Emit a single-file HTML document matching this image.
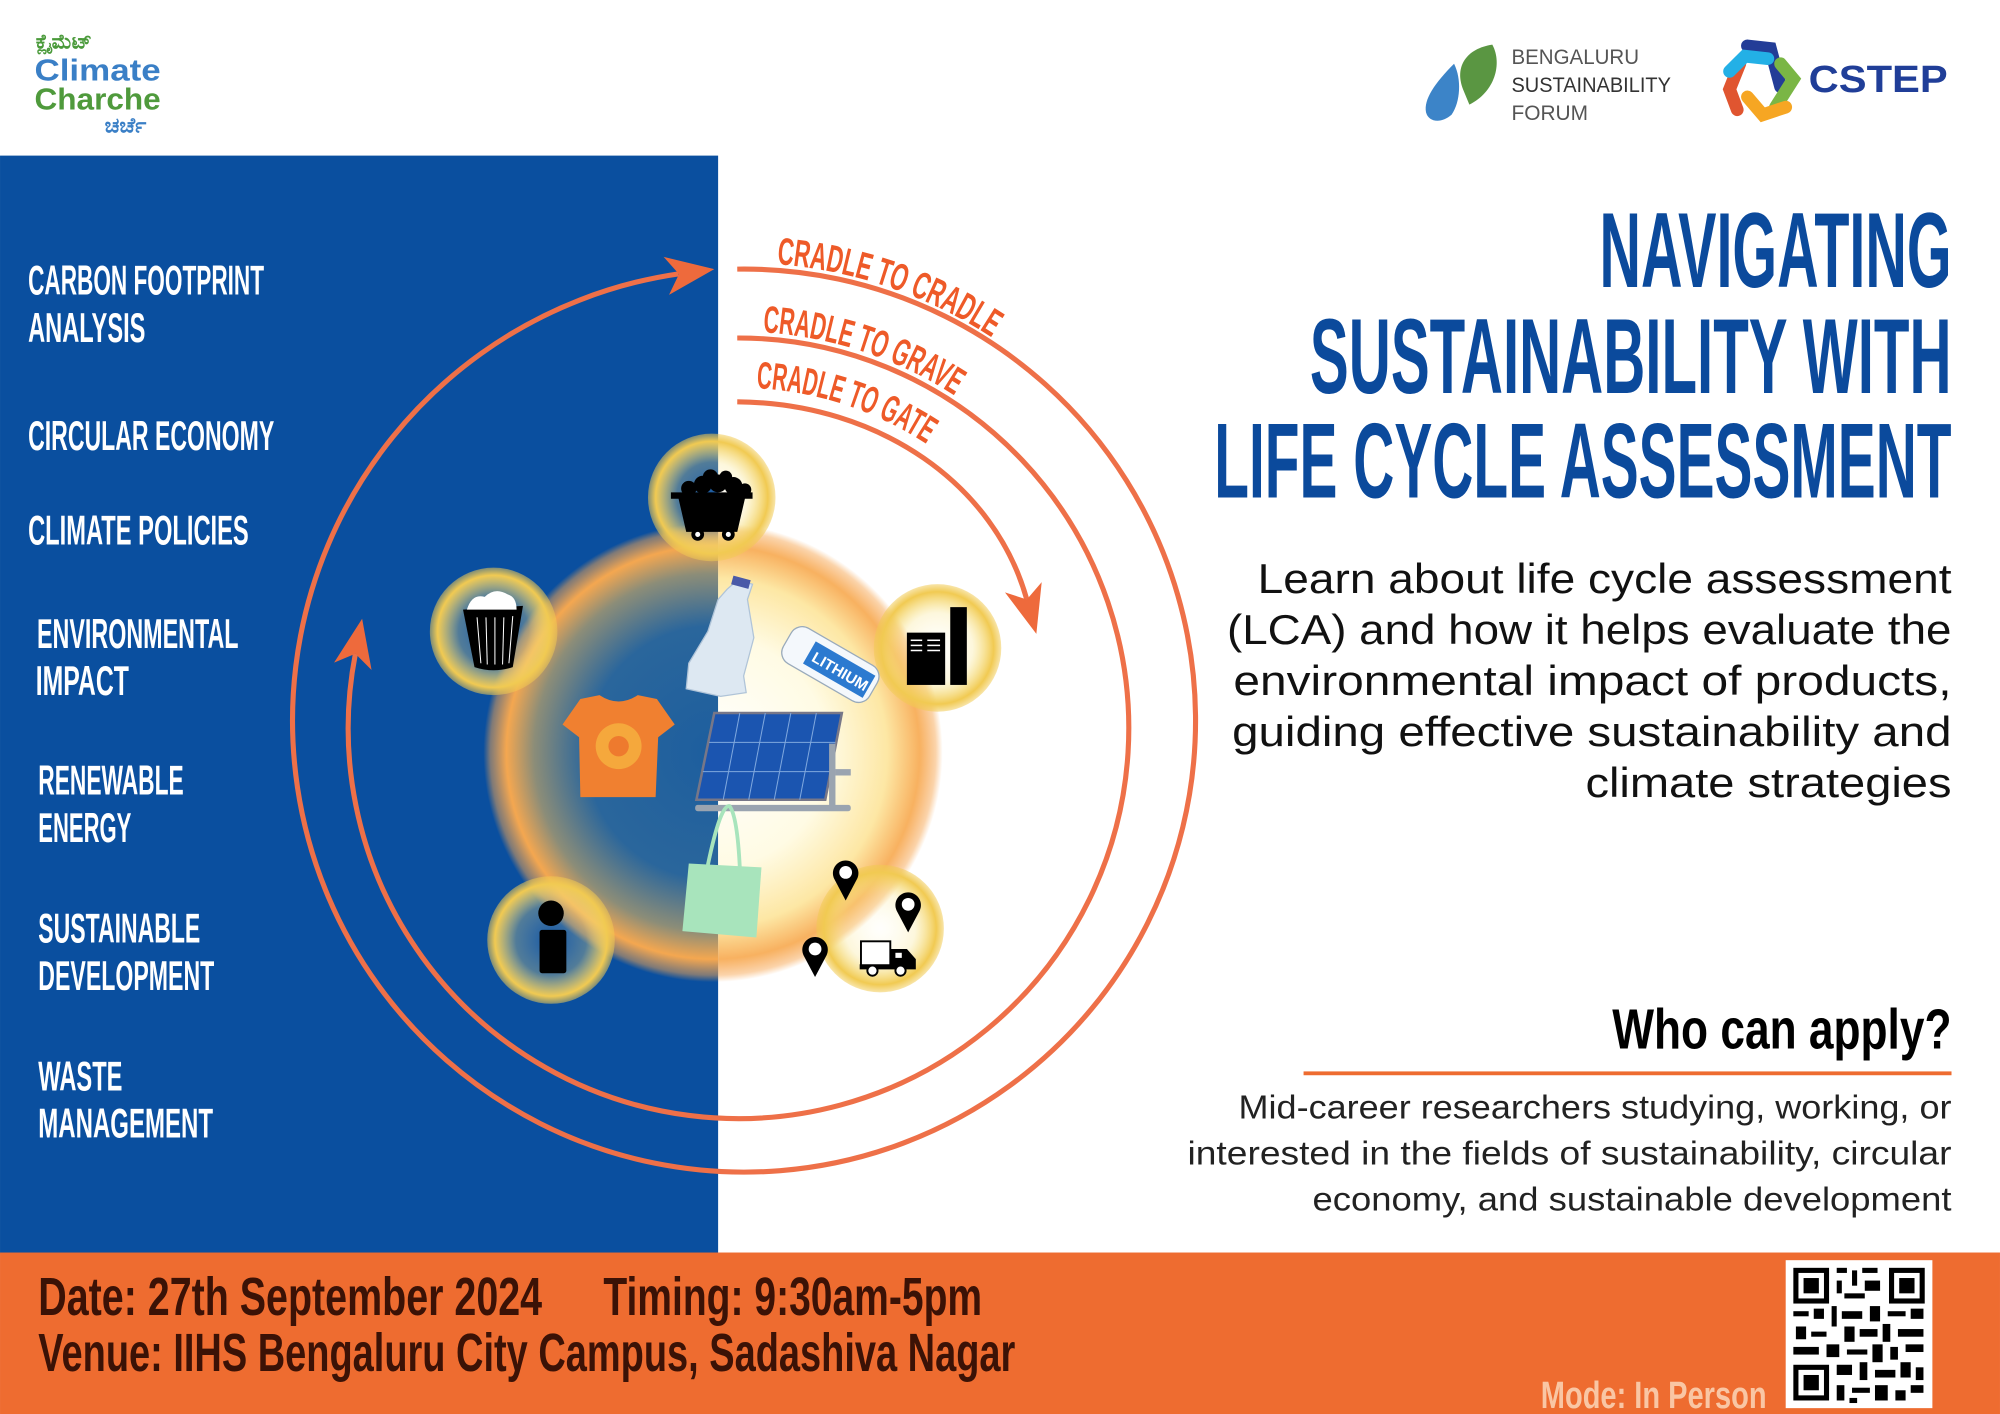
<!DOCTYPE html>
<html><head><meta charset="utf-8"><style>
html,body{margin:0;padding:0;background:#fff;}
svg{display:block;}
.c{font-family:"Liberation Sans",sans-serif;font-weight:bold;}
.b{font-family:"Liberation Sans","DejaVu Sans",sans-serif;}
</style></head><body>
<svg width="2000" height="1414" viewBox="0 0 1568 1108.6" xmlns="http://www.w3.org/2000/svg">
<defs>
<radialGradient id="gl" cx="559" cy="590" r="180" gradientUnits="userSpaceOnUse">
<stop offset="0" stop-color="#1d5e9e"/><stop offset="0.55" stop-color="#2a669c"/>
<stop offset="0.78" stop-color="#8c8d78"/><stop offset="0.9" stop-color="#f4a750"/>
<stop offset="0.97" stop-color="#f5a550" stop-opacity="0.5"/><stop offset="1" stop-color="#f5a550" stop-opacity="0"/>
</radialGradient>
<radialGradient id="gr" cx="559" cy="590" r="180" gradientUnits="userSpaceOnUse">
<stop offset="0" stop-color="#ffffff"/><stop offset="0.5" stop-color="#fffbe4"/>
<stop offset="0.76" stop-color="#fde7a4"/><stop offset="0.9" stop-color="#f8b160"/>
<stop offset="0.97" stop-color="#f7a855" stop-opacity="0.5"/><stop offset="1" stop-color="#f7a855" stop-opacity="0"/>
</radialGradient>
<radialGradient id="sg">
<stop offset="0" stop-color="#fff6c8" stop-opacity="0.05"/><stop offset="0.55" stop-color="#f8e48a" stop-opacity="0.3"/>
<stop offset="0.88" stop-color="#f1ca52" stop-opacity="1"/><stop offset="1" stop-color="#f1ca52" stop-opacity="0.5"/>
</radialGradient>
<clipPath id="cl"><rect x="0" y="0" width="563" height="1109"/></clipPath>
<clipPath id="cr"><rect x="563" y="0" width="1005" height="1109"/></clipPath>
<path id="p1" d="M 581 206 A 359 359 0 0 1 940 565"/>
<path id="p2" d="M 579 260 A 311 311 0 0 1 890 571"/>
<path id="p3" d="M 579 304 A 268 268 0 0 1 847 572"/>
</defs>

<rect width="1568" height="1109" fill="#fff"/>
<rect x="0" y="122" width="563" height="861" fill="#0a4f9f"/>
<rect x="0" y="982" width="1568" height="127" fill="#ee6c30"/>

<text x="28" y="38" class="b" font-size="16" fill="#4a9a3a" font-weight="bold">ಕ್ಲೈಮೆಟ್</text>
<text x="27" y="63" class="b" font-size="24" font-weight="bold" fill="#3a7fc6" textLength="99" lengthAdjust="spacingAndGlyphs">Climate</text>
<text x="27" y="86" class="b" font-size="24" font-weight="bold" fill="#4f9a3c" textLength="99" lengthAdjust="spacingAndGlyphs">Charche</text>
<text x="82" y="104" class="b" font-size="17" font-weight="bold" fill="#3a7fc6">ಚರ್ಚೆ</text>

<path d="M1140 50 C1125 65 1116 78 1118 88 C1120 96 1130 97 1138 90 C1145 80 1146 62 1140 50Z" fill="#3c84c8"/>
<path d="M1147 70 C1140 52 1150 38 1170 35 C1178 50 1172 72 1152 82 Z" fill="#5a9642"/>
<text x="1185" y="50" class="b" font-size="17" fill="#555" textLength="100" lengthAdjust="spacingAndGlyphs">BENGALURU</text>
<text x="1185" y="72" class="b" font-size="17" fill="#333" textLength="125" lengthAdjust="spacingAndGlyphs">SUSTAINABILITY</text>
<text x="1185" y="94" class="b" font-size="17" fill="#555" textLength="60" lengthAdjust="spacingAndGlyphs">FORUM</text>
<g stroke-width="10" fill="none" stroke-linecap="round">
<path d="M1370 36 L1388 38 L1396 68" stroke="#233d97"/>
<path d="M1396 50 L1406 62 L1392 84" stroke="#7ab645"/>
<path d="M1400 84 L1382 90 L1370 76" stroke="#f6a623"/>
<path d="M1362 86 L1356 70 L1364 50" stroke="#e05530"/>
<path d="M1356 56 L1368 44 L1386 46" stroke="#23b0e6"/>
</g>
<text x="1418" y="72" class="c" font-size="30" fill="#203e98" textLength="109" lengthAdjust="spacingAndGlyphs">CSTEP</text>

<g class="c" fill="#fff" font-size="33">
<text x="22" y="231" textLength="185" lengthAdjust="spacingAndGlyphs">CARBON FOOTPRINT</text>
<text x="22" y="268" textLength="92" lengthAdjust="spacingAndGlyphs">ANALYSIS</text>
<text x="22" y="353" textLength="193" lengthAdjust="spacingAndGlyphs">CIRCULAR ECONOMY</text>
<text x="22" y="427" textLength="173" lengthAdjust="spacingAndGlyphs">CLIMATE POLICIES</text>
<text x="29" y="508" textLength="158" lengthAdjust="spacingAndGlyphs">ENVIRONMENTAL</text>
<text x="28" y="545" textLength="73" lengthAdjust="spacingAndGlyphs">IMPACT</text>
<text x="30" y="623" textLength="114" lengthAdjust="spacingAndGlyphs">RENEWABLE</text>
<text x="30" y="660" textLength="73" lengthAdjust="spacingAndGlyphs">ENERGY</text>
<text x="30" y="739" textLength="127" lengthAdjust="spacingAndGlyphs">SUSTAINABLE</text>
<text x="30" y="776" textLength="138" lengthAdjust="spacingAndGlyphs">DEVELOPMENT</text>
<text x="30" y="855" textLength="66" lengthAdjust="spacingAndGlyphs">WASTE</text>
<text x="30" y="892" textLength="137" lengthAdjust="spacingAndGlyphs">MANAGEMENT</text>
</g>

<circle cx="559" cy="590" r="180" fill="url(#gl)" clip-path="url(#cl)"/>
<circle cx="559" cy="590" r="180" fill="url(#gr)" clip-path="url(#cr)"/>
<g fill="url(#sg)">
<circle cx="558" cy="390" r="50"/><circle cx="387" cy="495" r="50"/><circle cx="735" cy="508" r="50"/>
<circle cx="432" cy="737" r="50"/><circle cx="690" cy="728" r="50"/>
</g>

<g fill="#000">
<path d="M526 386 H590 V391 H584 L578 417 H538 L532 391 H526Z"/>
<circle cx="540" cy="383" r="6"/><circle cx="551" cy="380" r="7"/><circle cx="563" cy="379" r="7"/><circle cx="575" cy="381" r="7"/><circle cx="584" cy="384" r="5"/><circle cx="557" cy="374" r="6"/><circle cx="569" cy="374" r="5"/>
<circle cx="547" cy="419" r="5"/><circle cx="571" cy="419" r="5"/>
</g>
<circle cx="547" cy="419" r="2" fill="#fff"/><circle cx="571" cy="419" r="2" fill="#fff"/>
<path d="M363 478 L410 475 L402 523 Q387 528 372 523Z" fill="#000"/>
<path d="M366 478 Q370 465 380 468 Q388 460 398 466 Q405 468 405 478Z" fill="#fff"/>
<g stroke="#fff" stroke-width="0.8"><line x1="374" y1="484" x2="377" y2="520"/><line x1="381" y1="484" x2="382" y2="521"/><line x1="388" y1="484" x2="388" y2="521"/><line x1="395" y1="484" x2="394" y2="521"/><line x1="402" y1="483" x2="399" y2="520"/></g>
<rect x="711" y="496" width="30" height="41" fill="#000"/><rect x="745" y="476" width="13" height="61" fill="#000"/>
<g stroke="#fff" stroke-width="1.2"><line x1="714" y1="502" x2="723" y2="502"/><line x1="714" y1="506" x2="723" y2="506"/><line x1="714" y1="510" x2="723" y2="510"/><line x1="727" y1="502" x2="737" y2="502"/><line x1="727" y1="506" x2="737" y2="506"/><line x1="727" y1="510" x2="737" y2="510"/></g>
<circle cx="432" cy="716" r="10" fill="#000"/><rect x="423" y="729" width="21" height="34" rx="2" fill="#000"/>
<rect x="675" y="738" width="23" height="20" fill="#fff" stroke="#000" stroke-width="1.5"/>
<path d="M698 744 H711 L718 752 V760 H674 V756 H698Z" fill="#000"/>
<rect x="702" y="747" width="5" height="4" fill="#fff"/>
<circle cx="684" cy="761" r="4" fill="#fff" stroke="#000" stroke-width="1.5"/><circle cx="706" cy="761" r="4" fill="#fff" stroke="#000" stroke-width="1.5"/>
<g fill="#000">
<path d="M663 706 L654 689 A10 10 0 1 1 672 689Z"/><path d="M712 731 L703 714 A10 10 0 1 1 721 714Z"/><path d="M639 766 L630 749 A10 10 0 1 1 648 749Z"/>
</g>
<g fill="#fff"><circle cx="663" cy="684" r="5"/><circle cx="712" cy="709" r="5"/><circle cx="639" cy="744" r="5"/></g>

<path d="M578 455 L590 458 L586 470 L591 500 L583 530 L585 543 L565 546 L538 540 L540 520 L555 495 L563 470 L570 462Z" fill="#dde8f2" stroke="#b0c4d8" stroke-width="1"/>
<rect x="574" y="453" width="14" height="7" fill="#4a5aa8" transform="rotate(15 581 456)"/>
<g transform="rotate(30 651 521)">
<rect x="612" y="505" width="78" height="32" rx="10" fill="#f4f8fc" stroke="#9ab" stroke-width="1"/>
<rect x="632" y="511" width="54" height="20" fill="#2c7ad0"/>
<text x="636" y="526" class="c" font-size="12" fill="#fff">LITHIUM</text>
</g>
<path d="M455 548 L470 545 Q485 555 500 545 L515 548 L529 568 L516 578 L514 625 L455 625 L454 578 L441 568Z" fill="#f08030"/>
<circle cx="485" cy="585" r="18" fill="#f6b240" opacity="0.8"/><circle cx="485" cy="585" r="8" fill="#ee7a2e"/>
<path d="M560 559 L660 559 L647 627 L546 627Z" fill="#1b55b0" stroke="#778" stroke-width="2"/>
<g stroke="#7fa8de" stroke-width="0.8"><line x1="556" y1="582" x2="655" y2="582"/><line x1="551" y1="605" x2="651" y2="605"/><line x1="580" y1="559" x2="567" y2="627"/><line x1="600" y1="559" x2="587" y2="627"/><line x1="620" y1="559" x2="607" y2="627"/><line x1="640" y1="559" x2="627" y2="627"/></g>
<rect x="545" y="631" width="122" height="5" rx="2" fill="#9aa4b0"/><rect x="650" y="583" width="5" height="50" fill="#9aa4b0"/><rect x="655" y="603" width="12" height="5" fill="#9aa4b0"/>
<path d="M540 677 L597 680 L593 735 L535 730Z" fill="#a8e4bc"/>
<path d="M555 678 Q565 630 572 632 Q578 640 580 680" fill="none" stroke="#a8e4bc" stroke-width="3"/>

<g fill="none" stroke="#ee7048" stroke-width="4">
<path d="M 578 211 A 354 354 0 1 1 532 214.7"/>
<path d="M 578 265 A 306 306 0 1 1 278.6 512.6"/>
<path d="M 578 315 C 690 316, 780 380, 805 470"/>
</g>
<g fill="#ee6a3c">
<polygon points="560,211 520.3,201.4 532.3,214.9 524.5,231.2"/>
<polygon points="283.9,485.1 261.9,519.5 278.6,512.6 291.3,525.3"/>
<polygon points="812.5,497 787.9,464.4 805,470 816.7,456.4"/>
</g>
<g class="c" font-size="30" fill="#ee5a28">
<text><textPath href="#p1" startOffset="28" textLength="180" lengthAdjust="spacingAndGlyphs">CRADLE TO CRADLE</textPath></text>
<text><textPath href="#p2" startOffset="19" textLength="160" lengthAdjust="spacingAndGlyphs">CRADLE TO GRAVE</textPath></text>
<text><textPath href="#p3" startOffset="14" textLength="142" lengthAdjust="spacingAndGlyphs">CRADLE TO GATE</textPath></text>
</g>

<g class="c" fill="#0b4a9c" font-size="84">
<text x="1254" y="225" textLength="276" lengthAdjust="spacingAndGlyphs">NAVIGATING</text>
<text x="1027" y="308" textLength="503" lengthAdjust="spacingAndGlyphs">SUSTAINABILITY WITH</text>
<text x="952" y="390" textLength="578" lengthAdjust="spacingAndGlyphs">LIFE CYCLE ASSESSMENT</text>
</g>
<g class="b" fill="#111" font-size="33">
<text x="986" y="465" textLength="544" lengthAdjust="spacingAndGlyphs">Learn about life cycle assessment</text>
<text x="962" y="505" textLength="568" lengthAdjust="spacingAndGlyphs">(LCA) and how it helps evaluate the</text>
<text x="967" y="545" textLength="563" lengthAdjust="spacingAndGlyphs">environmental impact of products,</text>
<text x="966" y="585" textLength="564" lengthAdjust="spacingAndGlyphs">guiding effective sustainability and</text>
<text x="1243" y="625" textLength="287" lengthAdjust="spacingAndGlyphs">climate strategies</text>
</g>
<text x="1264" y="822" class="c" font-size="44" fill="#000" textLength="266" lengthAdjust="spacingAndGlyphs">Who can apply?</text>
<rect x="1022" y="840" width="508" height="3" fill="#ee6c30"/>
<g class="b" fill="#222" font-size="26">
<text x="971" y="877" textLength="559" lengthAdjust="spacingAndGlyphs">Mid-career researchers studying, working, or</text>
<text x="931" y="913" textLength="599" lengthAdjust="spacingAndGlyphs">interested in the fields of sustainability, circular</text>
<text x="1029" y="949" textLength="501" lengthAdjust="spacingAndGlyphs">economy, and sustainable development</text>
</g>

<g class="c" fill="#3b1206" font-size="42">
<text x="30" y="1031" textLength="395" lengthAdjust="spacingAndGlyphs">Date: 27th September 2024</text>
<text x="473" y="1031" textLength="297" lengthAdjust="spacingAndGlyphs">Timing: 9:30am-5pm</text>
<text x="30" y="1075" textLength="766" lengthAdjust="spacingAndGlyphs">Venue: IIHS Bengaluru City Campus, Sadashiva Nagar</text>
</g>
<text x="1208" y="1104" class="c" font-size="30" fill="#f9c6a4" textLength="177" lengthAdjust="spacingAndGlyphs">Mode: In Person</text>

<rect x="1400" y="988" width="115" height="116" fill="#fff"/>
<g fill="#000">
<rect x="1406" y="994" width="28" height="28"/><rect x="1481" y="994" width="28" height="28"/><rect x="1406" y="1070" width="28" height="28"/>
</g>
<g fill="#fff"><rect x="1410" y="998" width="20" height="20"/><rect x="1485" y="998" width="20" height="20"/><rect x="1410" y="1074" width="20" height="20"/></g>
<g fill="#000">
<rect x="1414" y="1002" width="12" height="12"/><rect x="1489" y="1002" width="12" height="12"/><rect x="1414" y="1078" width="12" height="12"/>
<rect x="1440" y="994" width="8" height="4"/><rect x="1452" y="996" width="4" height="12"/><rect x="1460" y="994" width="12" height="4"/><rect x="1440" y="1004" width="4" height="10"/><rect x="1462" y="1004" width="12" height="8"/><rect x="1446" y="1014" width="16" height="4"/>
<rect x="1406" y="1028" width="12" height="4"/><rect x="1422" y="1026" width="8" height="8"/><rect x="1436" y="1024" width="4" height="16"/><rect x="1444" y="1028" width="16" height="6"/><rect x="1466" y="1024" width="8" height="12"/><rect x="1480" y="1028" width="14" height="4"/><rect x="1498" y="1026" width="10" height="8"/>
<rect x="1408" y="1040" width="8" height="10"/><rect x="1420" y="1044" width="12" height="4"/><rect x="1446" y="1040" width="8" height="12"/><rect x="1458" y="1042" width="14" height="6"/><rect x="1476" y="1038" width="6" height="14"/><rect x="1488" y="1042" width="20" height="6"/>
<rect x="1406" y="1056" width="20" height="6"/><rect x="1432" y="1054" width="10" height="10"/><rect x="1448" y="1058" width="16" height="4"/><rect x="1468" y="1054" width="8" height="14"/><rect x="1482" y="1056" width="6" height="10"/><rect x="1494" y="1054" width="14" height="6"/>
<rect x="1440" y="1070" width="12" height="8"/><rect x="1458" y="1068" width="6" height="14"/><rect x="1470" y="1074" width="16" height="6"/><rect x="1490" y="1068" width="8" height="12"/><rect x="1502" y="1072" width="6" height="10"/>
<rect x="1440" y="1086" width="6" height="12"/><rect x="1452" y="1088" width="14" height="4"/><rect x="1470" y="1086" width="10" height="12"/><rect x="1486" y="1090" width="8" height="8"/><rect x="1498" y="1086" width="10" height="6"/><rect x="1450" y="1096" width="6" height="4"/>
</g>
</svg>
</body></html>
